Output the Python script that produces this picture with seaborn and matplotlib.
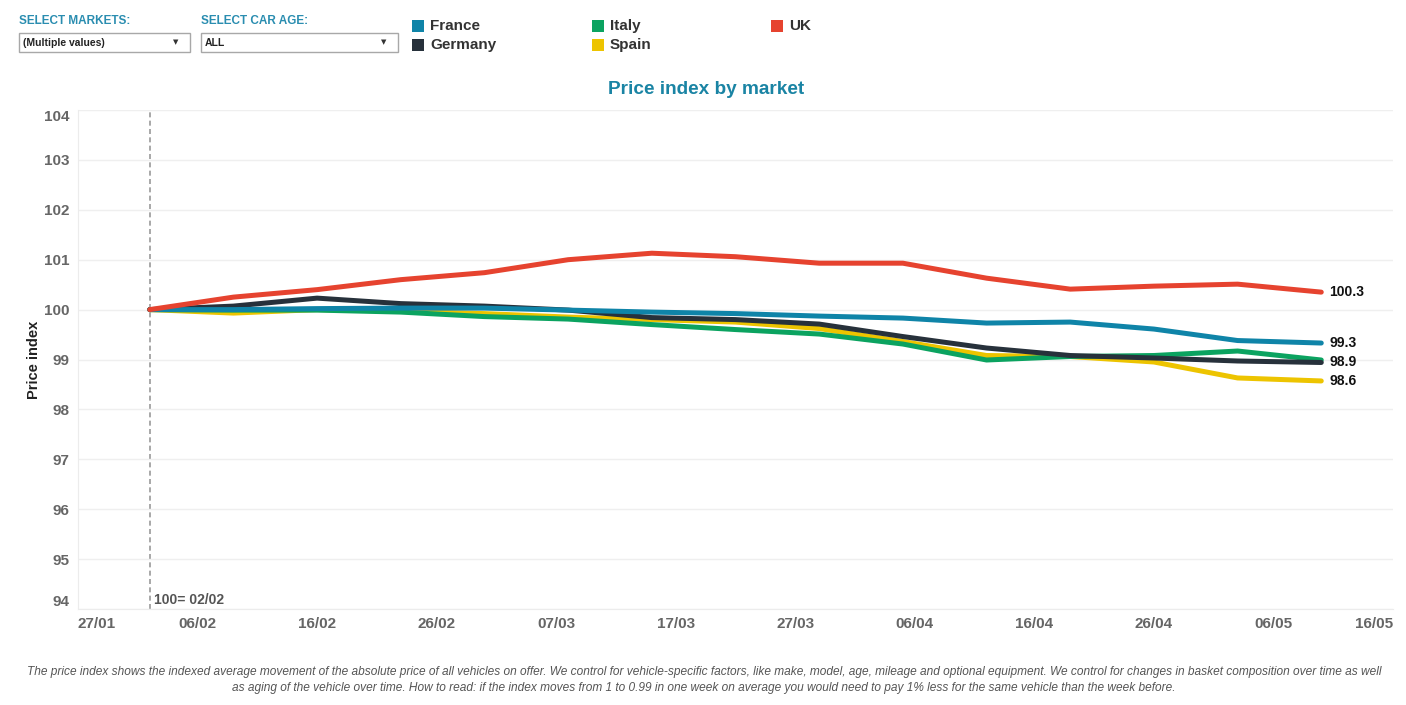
import pandas as pd
import matplotlib
matplotlib.use("Agg")
import matplotlib.pyplot as plt
import matplotlib.dates as mdates
from matplotlib.patches import Rectangle
import seaborn as sns

# Weekly price index per market (100 = 02/02/2020)
dates = pd.date_range("2020-02-02", periods=15, freq="7D")
france = [100.0, 100.0, 100.02, 100.03, 100.03, 99.99, 99.95, 99.92, 99.87, 99.83, 99.73, 99.75, 99.61, 99.38, 99.33]
germany = [100.0, 100.07, 100.23, 100.12, 100.07, 99.99, 99.84, 99.8, 99.71, 99.46, 99.23, 99.08, 99.03, 98.97, 98.94]
italy = [100.0, 99.99, 99.99, 99.95, 99.86, 99.81, 99.7, 99.6, 99.51, 99.31, 98.99, 99.06, 99.08, 99.17, 98.99]
spain = [100.0, 99.93, 100.0, 99.97, 99.92, 99.85, 99.8, 99.75, 99.62, 99.36, 99.08, 99.06, 98.95, 98.63, 98.57]
uk = [100.0, 100.25, 100.4, 100.6, 100.74, 101.0, 101.13, 101.06, 100.93, 100.93, 100.63, 100.41, 100.47, 100.51, 100.35]

markets = ["France", "Germany", "Italy", "Spain", "UK"]
colors = {"France": "#0f84a8", "Germany": "#27313b", "Italy": "#0ba360",
          "Spain": "#edc400", "UK": "#e6432f"}
labelled = ["France", "Germany", "Spain", "UK"]

df = pd.DataFrame({"date": list(dates) * 5,
                   "market": [m for m in markets for _ in dates],
                   "index": france + germany + italy + spain + uk})

sns.set_style("white")
plt.rcParams["font.family"] = ["Liberation Sans", "DejaVu Sans"]

fig = plt.figure(figsize=(14.06, 7.05), dpi=100)
W, H = 1406, 705
ax = fig.add_axes([78 / W, 1 - 609 / H, (1393 - 78) / W, (609 - 110) / H])

sns.lineplot(data=df, x="date", y="index", hue="market",
             hue_order=["Spain", "Italy", "Germany", "France", "UK"],
             palette=colors, linewidth=3.6, legend=False, ax=ax,
             solid_capstyle="round")

# end labels
for m in labelled:
    vals = df[df.market == m]
    ax.annotate(f"{vals['index'].iloc[-1]:.1f}", (vals["date"].iloc[-1], vals["index"].iloc[-1]),
                xytext=(6, 0), textcoords="offset points", va="center", ha="left",
                fontsize=10, fontweight="bold", color="#111111")

# base date marker
ax.axvline(dates[0], color="#9a9a9a", linestyle=(0, (3, 2)), linewidth=1.2, zorder=0)
ax.text(dates[0] + pd.Timedelta(days=0.35), 94.05, "100= 02/02", fontsize=10,
        fontweight="bold", color="#555555", va="bottom", ha="left")

ax.set_xlim(pd.Timestamp("2020-01-27"), pd.Timestamp("2020-05-16"))
ax.set_ylim(94, 104)
ax.set_yticks(range(94, 105))
ax.grid(axis="y", color="#efefef", linewidth=1)
ax.set_xticks(pd.date_range("2020-01-27", "2020-05-16", freq="10D"))
ax.xaxis.set_major_formatter(mdates.DateFormatter("%d/%m"))
ax.tick_params(axis="both", length=0, labelsize=11, labelcolor="#666666", pad=6)
for t in ax.get_xticklabels() + ax.get_yticklabels():
    t.set_fontweight("bold")
xt = ax.get_xticklabels()
xt[0].set_ha("left")
xt[-1].set_ha("right")
yt = ax.get_yticklabels()
yt[0].set_va("bottom")
yt[-1].set_va("top")

for s in ["top", "right"]:
    ax.spines[s].set_visible(False)
for s in ["left", "bottom"]:
    ax.spines[s].set_color("#ececec")
ax.set_xlabel("")
ax.set_ylabel("Price index", fontsize=10.5, fontweight="bold", color="#222222", labelpad=2)

fig.text(706 / W, 1 - 90 / H, "Price index by market", ha="center", va="center",
         fontsize=13.7, fontweight="bold", color="#1a84a4")

# filter controls
fig.text(19 / W, 1 - 21 / H, "SELECT MARKETS:", fontsize=8.5, fontweight="bold",
         color="#2a8db0", va="center")
fig.text(201 / W, 1 - 21 / H, "SELECT CAR AGE:", fontsize=8.5, fontweight="bold",
         color="#2a8db0", va="center")
for x0, x1, txt in [(19, 190, "(Multiple values)"), (201, 398, "ALL")]:
    fig.add_artist(Rectangle((x0 / W, 1 - 52 / H), (x1 - x0) / W, 19 / H,
                             transform=fig.transFigure, fill=False, ec="#a8a8a8", lw=1))
    fig.text((x0 + 4) / W, 1 - 42.5 / H, txt, fontsize=7.5, fontweight="bold",
             color="#222222", va="center")
    fig.text((x1 - 14) / W, 1 - 42.5 / H, "▼", fontsize=5, color="#333333",
             va="center", ha="center", family="DejaVu Sans")

# legend
leg_x = [412, 592, 771]
for i, m in enumerate(markets):
    cx = leg_x[i // 2]
    cy = [26, 45][i % 2]
    fig.add_artist(Rectangle((cx / W, 1 - (cy + 6) / H), 12 / W, 12 / H,
                             transform=fig.transFigure, color=colors[m], lw=0))
    fig.text((cx + 18) / W, 1 - cy / H, m, fontsize=11, fontweight="bold",
             color="#333333", va="center")

note = ("The price index shows the indexed average movement of the absolute price of all vehicles on offer. "
        "We control for vehicle-specific factors, like make, model, age, mileage and optional equipment. "
        "We control for changes in basket composition over time as well\n"
        "as aging of the vehicle over time. How to read: if the index moves from 1 to 0.99 in one week "
        "on average you would need to pay 1% less for the same vehicle than the week before.")
fig.text(704 / W, 1 - 680 / H, note, ha="center", va="center", fontsize=8.55, style="italic",
         color="#555555", linespacing=1.4)

fig.savefig("out.png", dpi=100)
